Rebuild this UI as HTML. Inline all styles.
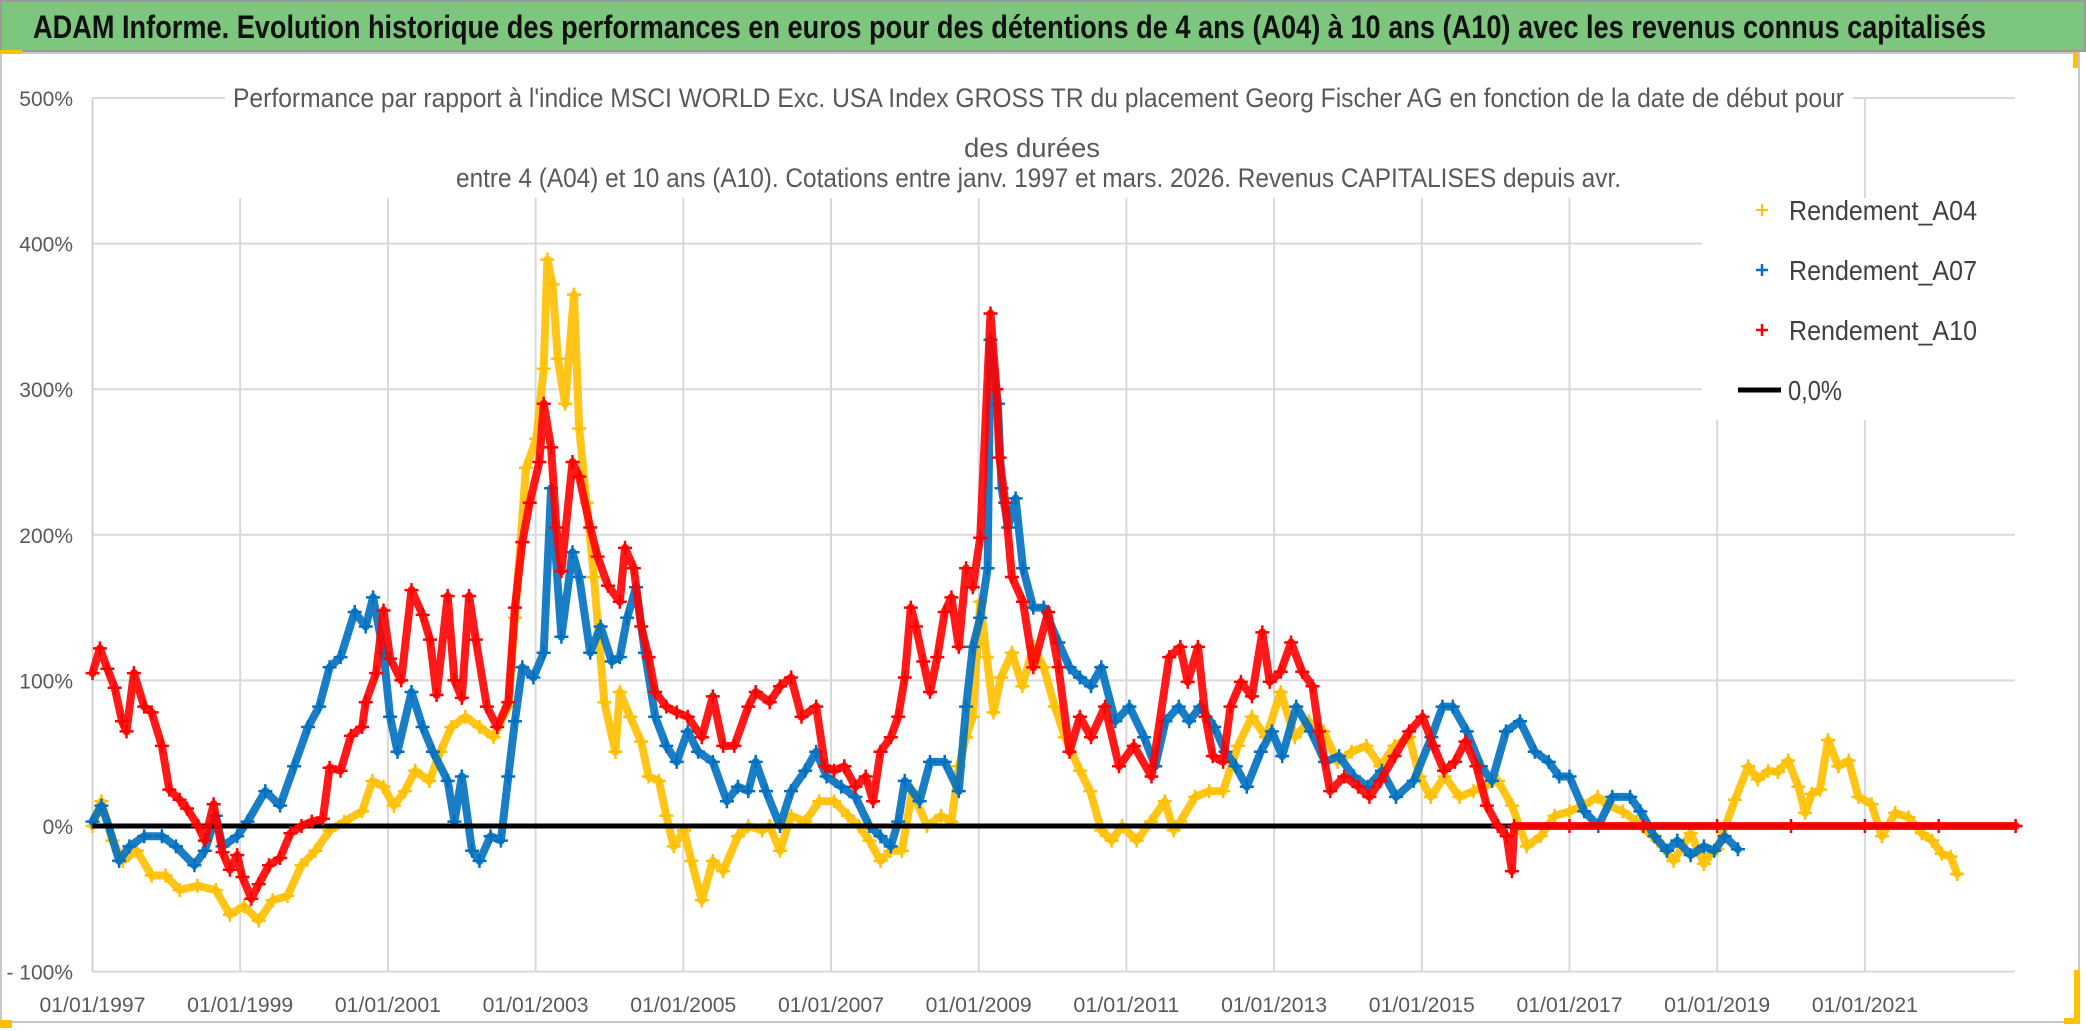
<!DOCTYPE html>
<html><head><meta charset="utf-8"><style>
html,body{margin:0;padding:0;background:#fff;}
svg{display:block;font-family:"Liberation Sans",sans-serif;}
</style></head><body>
<svg id="chart" width="2086" height="1031" viewBox="0 0 2086 1031" xmlns="http://www.w3.org/2000/svg">
<rect x="0" y="0" width="2086" height="1031" fill="#fff"/>
<rect x="1" y="1" width="2084" height="50" fill="#7dc67e" stroke="#9a9a9a" stroke-width="2"/>
<text x="33" y="38" font-size="32" font-weight="bold" fill="#111" textLength="1953" lengthAdjust="spacingAndGlyphs">ADAM Informe. Evolution historique des performances en euros pour des détentions de 4 ans (A04) à 10 ans (A10) avec les revenus connus capitalisés</text>
<rect x="1" y="53" width="2078" height="969" fill="none" stroke="#c8c8c8" stroke-width="2"/>
<rect x="0" y="50" width="22" height="4" fill="#ffc000"/>
<rect x="2073" y="52" width="5" height="16" fill="#ffc000"/>
<rect x="2074" y="970" width="6" height="54" fill="#ffc000"/>
<rect x="2064" y="1018" width="16" height="6" fill="#ffc000"/>
<rect x="0" y="1020" width="12" height="8" fill="#ffc000"/>
<g id="grid"></g>
<g id="series"></g>
<rect x="225" y="78" width="1628" height="120" fill="#fff"/>
<text x="233" y="107" font-size="27" fill="#595959" textLength="1611" lengthAdjust="spacingAndGlyphs">Performance par rapport à l'indice MSCI WORLD Exc. USA Index GROSS TR  du placement Georg Fischer AG en fonction de la date de début pour</text>
<text x="1032" y="157" font-size="27" fill="#595959" text-anchor="middle" textLength="136" lengthAdjust="spacingAndGlyphs">des durées</text>
<text x="456" y="187" font-size="27" fill="#595959" textLength="1165" lengthAdjust="spacingAndGlyphs">entre 4 (A04) et 10 ans (A10). Cotations entre janv. 1997 et mars. 2026. Revenus CAPITALISES depuis avr.</text>
<g>
<rect x="1702" y="198" width="313" height="222" fill="#fff"/>
<g><path d="M1756 210h12M1762 204v12" stroke="#ffc000" stroke-width="2"/><text x="1789" y="220" font-size="28" fill="#404040" textLength="188" lengthAdjust="spacingAndGlyphs">Rendement_A04</text></g>
<g><path d="M1756 270h12M1762 264v12" stroke="#0070c0" stroke-width="2.5"/><text x="1789" y="280" font-size="28" fill="#404040" textLength="188" lengthAdjust="spacingAndGlyphs">Rendement_A07</text></g>
<g><path d="M1756 330h12M1762 324v12" stroke="#ff0000" stroke-width="2.5"/><text x="1789" y="340" font-size="28" fill="#404040" textLength="188" lengthAdjust="spacingAndGlyphs">Rendement_A10</text></g>
<g><line x1="1738" y1="390" x2="1781" y2="390" stroke="#000" stroke-width="5"/><text x="1788" y="400" font-size="28" fill="#404040" textLength="54" lengthAdjust="spacingAndGlyphs">0,0%</text></g>
</g>
<g id="axes"></g>
</svg>
<script>
const yTicks = [500, 400, 300, 200, 100, 0, -100];
const yTickLabels = ["500%", "400%", "300%", "200%", "100%", "0%", "- 100%"];
const xTicks = [1997, 1999, 2001, 2003, 2005, 2007, 2009, 2011, 2013, 2015, 2017, 2019, 2021];
const xTickLabels = ["01/01/1997","01/01/1999","01/01/2001","01/01/2003","01/01/2005","01/01/2007","01/01/2009","01/01/2011","01/01/2013","01/01/2015","01/01/2017","01/01/2019","01/01/2021"];
const zeroLine = [1997.0, 2023.04];

const a04Dates = [1997.0,1997.12,1997.27,1997.41,1997.6,1997.8,1997.99,1998.18,1998.42,1998.67,1998.86,1999.05,1999.25,1999.44,1999.64,1999.83,2000.02,2000.21,2000.41,2000.65,2000.79,2000.94,2001.08,2001.23,2001.37,2001.56,2001.71,2001.86,2002.05,2002.24,2002.43,2002.63,2002.72,2002.87,2003.01,2003.11,2003.16,2003.23,2003.3,2003.4,2003.52,2003.59,2003.69,2003.79,2003.93,2004.08,2004.14,2004.28,2004.43,2004.53,2004.67,2004.77,2004.87,2005.01,2005.11,2005.25,2005.4,2005.54,2005.74,2005.88,2006.07,2006.17,2006.31,2006.46,2006.65,2006.84,2007.04,2007.23,2007.38,2007.52,2007.67,2007.81,2007.96,2008.1,2008.3,2008.49,2008.63,2008.73,2008.83,2008.92,2009.02,2009.11,2009.2,2009.3,2009.45,2009.59,2009.74,2009.88,2010.03,2010.17,2010.37,2010.51,2010.66,2010.8,2010.94,2011.14,2011.33,2011.52,2011.64,2011.73,2011.93,2012.12,2012.31,2012.51,2012.7,2012.89,2013.09,2013.28,2013.47,2013.67,2013.86,2014.05,2014.25,2014.44,2014.63,2014.83,2014.97,2015.12,2015.31,2015.51,2015.7,2015.84,2016.03,2016.22,2016.42,2016.61,2016.8,2017.0,2017.19,2017.38,2017.53,2017.72,2017.91,2018.19,2018.41,2018.64,2018.82,2018.91,2019.0,2019.24,2019.42,2019.55,2019.69,2019.82,2019.96,2020.1,2020.19,2020.28,2020.39,2020.5,2020.64,2020.78,2020.91,2021.09,2021.23,2021.41,2021.59,2021.77,2021.91,2022.04,2022.16,2022.25];
const a04Values = [0,17,-10,-24,-17,-34,-34,-44,-41,-44,-61,-55,-65,-51,-48,-27,-17,-3,3,10,31,27,14,24,38,31,51,68,75,68,61,82,143,246,266,314,389,372,321,290,365,273,222,171,85,51,92,75,58,34,31,7,-14,-3,-24,-51,-24,-31,-7,0,-3,0,-17,7,3,17,17,7,0,-10,-24,-17,-17,24,0,7,3,41,61,75,154,116,78,102,119,96,123,109,82,61,38,24,-3,-10,0,-10,3,17,-3,3,20,24,24,55,75,61,92,61,72,65,44,51,55,41,55,61,34,20,34,20,24,27,31,14,-14,-7,7,10,14,20,14,10,3,-10,-24,-5,-26,-19,-16,18,41,32,38,37,45,27,9,22,25,59,41,45,20,15,-7,9,6,-5,-10,-19,-21,-33,-37,-28,-40];

const a07Dates = [1997.0,1997.12,1997.22,1997.36,1997.5,1997.7,1997.94,1998.13,1998.38,1998.52,1998.67,1998.76,1998.96,1999.1,1999.34,1999.54,1999.73,1999.92,2000.07,2000.21,2000.36,2000.55,2000.7,2000.8,2000.94,2001.03,2001.13,2001.32,2001.47,2001.61,2001.81,2001.9,2002.0,2002.14,2002.24,2002.39,2002.53,2002.63,2002.72,2002.82,2002.97,2003.11,2003.21,2003.35,2003.5,2003.59,2003.74,2003.88,2004.03,2004.14,2004.24,2004.36,2004.48,2004.62,2004.77,2004.91,2005.06,2005.2,2005.4,2005.59,2005.74,2005.88,2005.98,2006.12,2006.31,2006.46,2006.65,2006.8,2006.94,2007.14,2007.33,2007.52,2007.67,2007.81,2007.91,2008.0,2008.2,2008.34,2008.54,2008.73,2008.83,2008.92,2009.02,2009.12,2009.16,2009.26,2009.31,2009.4,2009.5,2009.6,2009.74,2009.88,2010.08,2010.23,2010.37,2010.52,2010.66,2010.85,2011.04,2011.24,2011.39,2011.53,2011.71,2011.85,2012.0,2012.19,2012.34,2012.48,2012.63,2012.82,2012.97,2013.11,2013.3,2013.5,2013.69,2013.88,2014.08,2014.27,2014.46,2014.65,2014.89,2015.13,2015.28,2015.42,2015.61,2015.8,2015.95,2016.14,2016.33,2016.53,2016.72,2016.86,2017.0,2017.2,2017.39,2017.58,2017.82,2017.96,2018.15,2018.32,2018.46,2018.64,2018.82,2018.96,2019.1,2019.28];
const a07Values = [3,14,0,-24,-14,-7,-7,-14,-27,-17,7,-14,-7,3,24,14,41,68,82,109,116,147,137,157,119,75,51,92,68,51,31,3,34,-17,-24,-7,-10,34,72,109,102,119,232,130,188,171,119,137,113,116,143,164,119,75,55,44,65,51,44,17,27,24,44,24,0,24,38,51,34,27,20,0,-7,-14,3,31,17,44,44,24,82,123,143,177,334,290,232,205,225,177,150,150,126,109,102,96,109,72,82,61,41,72,82,72,82,68,51,41,27,51,65,48,82,65,44,48,34,27,38,20,31,61,82,82,65,41,31,65,72,51,44,34,34,10,0,20,20,10,-7,-17,-10,-20,-14,-17,-7,-16,-5,-3,-16,-28];

const a10Dates = [
1997.0,1997.1,1997.2,1997.3,1997.4,1997.46,1997.56,1997.7,1997.8,1997.94,
1998.04,1998.18,1998.28,1998.43,1998.52,1998.64,1998.76,1998.86,1998.96,1999.03,
1999.15,1999.25,1999.39,1999.54,1999.68,1999.83,1999.97,2000.12,2000.21,2000.36,
2000.5,2000.65,2000.7,2000.84,2000.94,2001.03,2001.18,2001.32,2001.47,2001.57,
2001.66,2001.81,2001.9,2002.0,2002.1,2002.19,2002.34,2002.48,2002.63,2002.72,
2002.82,2002.92,2003.05,2003.11,2003.21,2003.28,2003.35,2003.5,2003.59,2003.74,
2003.84,2003.98,2004.14,2004.21,2004.33,2004.43,2004.53,2004.62,2004.77,2004.91,
2005.06,2005.25,2005.4,2005.54,2005.69,2005.88,2005.98,2006.17,2006.31,2006.46,
2006.6,2006.8,2006.92,2007.04,2007.18,2007.33,2007.47,2007.57,2007.67,2007.81,
2007.91,2008.0,2008.08,2008.15,2008.25,2008.34,2008.44,2008.54,2008.63,2008.73,
2008.83,2008.92,2009.02,2009.16,2009.24,2009.28,2009.36,2009.45,2009.6,2009.74,
2009.94,2010.08,2010.23,2010.37,2010.52,2010.71,2010.9,2011.1,2011.34,2011.58,
2011.73,2011.83,2011.97,2012.07,2012.17,2012.31,2012.41,2012.55,2012.7,2012.84,
2012.94,2013.09,2013.23,2013.38,2013.52,2013.61,2013.76,2013.95,2014.14,2014.29,
2014.44,2014.63,2014.83,2015.01,2015.16,2015.3,2015.45,2015.59,2015.74,2015.88,
2016.03,2016.15,2016.22,2016.25,2017.0,2018.0,2019.0,2020.0,2021.0,2022.0,2023.04];
const a10Values = [
105,122,108,95,72,65,105,82,78,55,
25,18,12,0,-10,15,-18,-30,-20,-35,
-50,-40,-27,-22,-5,0,3,5,40,38,
62,68,85,105,148,115,100,162,145,128,
90,158,100,88,158,128,82,68,85,150,
195,222,250,290,260,205,175,250,240,205,
185,165,154,191,177,137,116,92,82,78,
75,61,89,55,55,82,92,85,96,102,
75,82,41,38,41,27,34,17,51,61,
75,102,150,137,113,92,116,147,157,123,
177,164,198,352,300,253,222,171,154,109,
147,109,51,75,61,82,41,55,34,116,
123,99,123,75,48,44,82,99,89,133,
99,106,126,106,96,65,24,34,27,20,
31,48,65,75,55,38,44,58,41,14,
0,-7,-31,0,0,0,0,0,0,0,0];

const svgNS = "http://www.w3.org/2000/svg";
const X0 = 92.5, PX_PER_YEAR = 73.85, Y0 = 826, PX_PER_PCT = 1.456;
function xScale(t){ return X0 + (t - 1997) * PX_PER_YEAR; }
function yScale(v){ return Y0 - v * PX_PER_PCT; }
const PLOT_RIGHT = 2015, PLOT_TOP = yScale(500), PLOT_BOTTOM = yScale(-100);

const grid = document.getElementById('grid');
const axes = document.getElementById('axes');
function mk(tag, attrs, parent){
  const el = document.createElementNS(svgNS, tag);
  for (const k in attrs) el.setAttribute(k, attrs[k]);
  parent.appendChild(el);
  return el;
}
yTicks.forEach((v, i) => {
  const l = mk('line', {x1: X0, x2: PLOT_RIGHT, y1: yScale(v), y2: yScale(v), stroke: '#d9d9d9', 'stroke-width': 2}, grid);
  
  
  const t = mk('text', {x: 73, y: yScale(v) + 8, 'font-size': 21, fill: '#595959', 'text-anchor': 'end'}, axes);
  t.textContent = yTickLabels[i];
  
  
});
xTicks.forEach((yr, i) => {
  const l = mk('line', {x1: xScale(yr), x2: xScale(yr), y1: PLOT_TOP, y2: PLOT_BOTTOM, stroke: '#d9d9d9', 'stroke-width': 2}, grid);
  
  
  const t = mk('text', {x: xScale(yr), y: 1012, 'font-size': 21, fill: '#595959', 'text-anchor': 'middle', textLength: 106, lengthAdjust: 'spacingAndGlyphs'}, axes);
  t.textContent = xTickLabels[i];
  
  
});

const layer = document.getElementById('series');
function drawSeries(dates, values, color, name){
  const g = mk('g', {}, layer);
  
  
  const pts = dates.map((d, i) => xScale(d).toFixed(1) + ',' + yScale(values[i]).toFixed(1)).join(' ');
  const pl = mk('polyline', {points: pts, fill: 'none', stroke: color, 'stroke-width': 8, 'stroke-linejoin': 'round', 'stroke-linecap': 'round', opacity: 0.9}, g);
  
  
  let d = '';
  dates.forEach((t, i) => {
    const x = xScale(t), y = yScale(values[i]);
    d += 'M' + (x - 7).toFixed(1) + ' ' + y.toFixed(1) + 'h14M' + x.toFixed(1) + ' ' + (y - 7).toFixed(1) + 'v14';
  });
  const p = mk('path', {d: d, stroke: color, 'stroke-width': 2.5, fill: 'none'}, g);
  
  
}
drawSeries(a04Dates, a04Values, '#ffc000', 'series-a04');
drawSeries(a07Dates, a07Values, '#0070c0', 'series-a07');
const zl = mk('line', {x1: xScale(zeroLine[0]), x2: xScale(zeroLine[1]), y1: yScale(0), y2: yScale(0), stroke: '#000', 'stroke-width': 5}, layer);


drawSeries(a10Dates, a10Values, '#ff0000', 'series-a10');
const ax = mk('line', {x1: X0, x2: X0, y1: PLOT_TOP, y2: PLOT_BOTTOM, stroke: '#d0d0d0', 'stroke-width': 2}, grid);


</script>
</body></html>
